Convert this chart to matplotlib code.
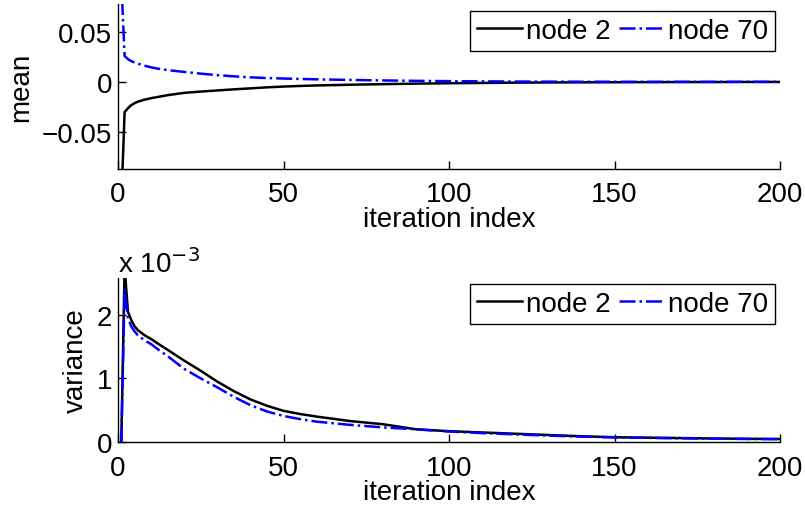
import matplotlib
matplotlib.use("Agg")
import matplotlib.pyplot as plt

plt.rcParams['font.family'] = ['Liberation Sans', 'DejaVu Sans']
plt.rcParams['font.size'] = 20

iters = [1, 2, 3, 4, 5, 6, 8, 10, 12, 15, 20, 25, 30, 35, 40, 45, 50, 55, 60,
         70, 80, 90, 100, 110, 120, 130, 140, 150, 160, 170, 180, 190, 200]

mean_node2 = [-0.12, -0.030, -0.026, -0.023, -0.021, -0.0195, -0.0175, -0.016,
              -0.0148, -0.013, -0.0107, -0.0094, -0.0083, -0.0072, -0.0062,
              -0.0052, -0.0044, -0.0038, -0.0033, -0.0026, -0.0020, -0.0015,
              -0.0011, -0.0008, -0.0005, -0.0003, -0.0002, -0.0001, 0.0,
              0.0001, 0.0001, 0.0002, 0.0002]

mean_node70 = [0.10, 0.026, 0.023, 0.021, 0.0195, 0.0185, 0.0165, 0.0148,
               0.0135, 0.0120, 0.0102, 0.0085, 0.0070, 0.0058, 0.0048, 0.0041,
               0.0036, 0.0032, 0.0028, 0.0022, 0.0017, 0.0013, 0.0010, 0.0008,
               0.0006, 0.0005, 0.0004, 0.0004, 0.0003, 0.0003, 0.0003, 0.0003,
               0.0003]

var_node2 = [0.0, 2.75, 2.05, 1.92, 1.82, 1.76, 1.68, 1.62, 1.55, 1.45, 1.28,
             1.12, 0.95, 0.80, 0.67, 0.57, 0.49, 0.44, 0.40, 0.33, 0.28, 0.20,
             0.17, 0.15, 0.13, 0.11, 0.09, 0.075, 0.068, 0.062, 0.055, 0.05,
             0.047]

var_node70 = [0.0, 2.40, 1.95, 1.82, 1.74, 1.68, 1.60, 1.54, 1.46, 1.35, 1.15,
              1.00, 0.86, 0.71, 0.58, 0.48, 0.41, 0.36, 0.32, 0.27, 0.23, 0.20,
              0.165, 0.14, 0.12, 0.10, 0.085, 0.072, 0.065, 0.058, 0.052,
              0.048, 0.045]

labels = ['node 2', 'node 70']
xticks = [0, 50, 100, 150, 200]

fig = plt.figure(figsize=(8.05, 5.06), dpi=100)
W, H = 805, 506
def axrect(l, t, r, b):
    return [l / W, 1 - b / H, (r - l) / W, (b - t) / H]

ax1 = fig.add_axes(axrect(118, 5, 780, 170))
ax2 = fig.add_axes(axrect(118, 279, 780, 443))

def style(ax):
    for s in ['top', 'right']:
        ax.spines[s].set_visible(False)
    for s in ['left', 'bottom']:
        ax.spines[s].set_linewidth(1.0)
    ax.tick_params(direction='in', length=6, width=1, labelsize=20)
    ax.tick_params(axis='x', pad=9)
    ax.tick_params(axis='y', pad=4)
    ax.set_xlim(0, 200)
    ax.set_xticks(xticks)
    ax.set_xlabel('iteration index', fontsize=20, labelpad=-1)

legkw = dict(loc='upper right', ncol=2, fontsize=20, handlelength=1.62,
             handletextpad=0.15, columnspacing=0.3, borderpad=0.25,
             borderaxespad=0, fancybox=False, framealpha=1,
             edgecolor='black')

ax1.plot(iters, mean_node2, color='black', lw=1.8, label=labels[0])
ax1.plot(iters, mean_node70, color='blue', lw=1.8, ls='-.', label=labels[1])
style(ax1)
ax1.set_ylim(-0.0867, 0.078)
ax1.set_yticks([-0.05, 0, 0.05])
ax1.set_yticklabels(['\u22120.05', '0', '0.05'])
ax1.set_ylabel('mean', fontsize=20, labelpad=6)
leg1 = ax1.legend(bbox_to_anchor=(0.9925, 0.958), **legkw)
leg1.get_frame().set_linewidth(1.0)

ax2.plot(iters, var_node2, color='black', lw=1.8, label=labels[0])
ax2.plot(iters, var_node70, color='blue', lw=1.8, ls='-.', label=labels[1])
style(ax2)
ax2.set_ylim(0, 2.58)
ax2.set_yticks([0, 1, 2])
ax2.set_yticklabels(['0', '1', '2'])
ax2.set_ylabel('variance', fontsize=20, labelpad=6)
ax2.text(0, 1.0, 'x 10$^{\u22123}$', transform=ax2.transAxes, fontsize=20,
         ha='left', va='bottom')
leg2 = ax2.legend(bbox_to_anchor=(0.9925, 0.963), **legkw)
leg2.get_frame().set_linewidth(1.0)

fig.savefig('out.png', dpi=100)
